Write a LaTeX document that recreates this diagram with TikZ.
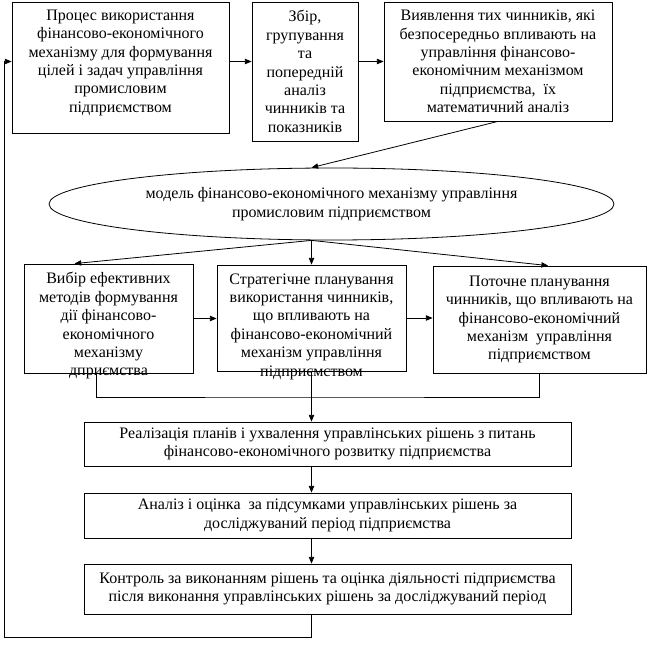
\documentclass[tikz,border=0pt]{standalone}
\usepackage{fontspec}
\setmainfont{Liberation Serif}
\usetikzlibrary{arrows.meta,shapes.geometric,calc}

\begin{document}
\begin{tikzpicture}[x=0.75pt,y=-0.75pt]
\tikzstyle{block}=[draw,line width=0.6pt,align=center,inner sep=0pt,font={\fontsize{12}{13.8}\selectfont}]
\tikzstyle{model}=[block,ellipse]
\tikzstyle{label}=[align=center,inner sep=0pt,font={\fontsize{12}{13.8}\selectfont}]
\tikzstyle{link}=[draw,line width=0.6pt]
\tikzstyle{arrow}=[link,-{Triangle[length=5pt,width=4pt]}]
\def \px {0.75pt}
\useasboundingbox (0,0) rectangle (651,655);
% top row
\node[block,minimum width=217*\px,minimum height=131*\px] (A) at (120.5,67.5)
  {Процес використання\\фінансово-економічного\\механізму для формування\\цілей і задач управління\\промисловим\\підприємством\\[-4pt]};
\node[block,minimum width=106*\px,minimum height=139*\px] (B) at (305,71.5)
  {Збір,\\групування\\та\\попередній\\аналіз\\чинників та\\показників};
\node[block,minimum width=228*\px,minimum height=119*\px] (C) at (498,61.5)
  {Виявлення тих чинників, які\\безпосередньо впливають на\\управління фінансово-\\економічним механізмом\\підприємства,\ \ їх\\математичний аналіз};
% model
\node[model,minimum width=565*\px,minimum height=72*\px] (M) at (331.5,204)
  {модель фінансово-економічного механізму управління\\промисловим підприємством};
% middle row
\node[block,minimum width=169*\px,minimum height=109*\px] (D) at (108.5,318.5) {};
\node[label,anchor=north] (Dtext) at ([yshift=-6.5pt]D.north)
  {Вибір ефективних\\методів формування\\дії фінансово-\\економічного\\механізму\\дприємства};
\node[block,minimum width=189*\px,minimum height=106*\px] (E) at (311.5,318) {};
\node[label,anchor=north] (Etext) at ([yshift=-6.5pt]E.north)
  {Стратегічне планування\\використання чинників,\\що впливають на\\фінансово-економічний\\механізм управління\\підприємством};
\node[block,minimum width=213*\px,minimum height=107*\px] (F) at (539.5,319.5)
  {Поточне планування\\чинників, що впливають на\\фінансово-економічний\\механізм\ \ управління\\підприємством};
% bottom column
\node[block,minimum width=487*\px,minimum height=44*\px] (G) at (327.5,444)
  {Реалізація планів і ухвалення управлінських рішень з питань\\фінансово-економічного розвитку підприємства};
\node[block,minimum width=487*\px,minimum height=45*\px] (H) at (327.5,515.5)
  {Аналіз і оцінка\ \ за підсумками управлінських рішень за\\досліджуваний період підприємства};
\node[block,minimum width=487*\px,minimum height=50*\px] (I) at (327.5,589)
  {Контроль за виконанням рішень та оцінка діяльності підприємства\\після виконання управлінських рішень за досліджуваний період};
\coordinate (join) at (311.5,397);
\coordinate (back) at (4,637);
% connectors
\path[arrow] (A.east |- C.west) -- (B.west |- C.west);
\path[arrow] (B.east |- C.west) -- (C.west);
\path[arrow] (C.south) -- (M.north -| E.north);
\path[arrow] (M.south -| E.north) -- ($(D.north west)!0.3!(D.north east)$);
\path[arrow] (M.south -| E.north) -- (E.north);
\path[arrow] (M.south -| E.north) -- ($(F.north west)!0.54!(F.north east)$);
\path[arrow] (D.east) -- (D.east -| E.west);
\path[arrow] (E.east) -- (E.east -| F.west);
\path[link] ($(D.south west)!0.43!(D.south east)$) |- (join) -| (F.south);
\path[arrow] (E.south) -- (E.south |- G.north);
\path[arrow] (G.south -| E.south) -- (H.north -| E.south);
\path[arrow] (H.south -| E.south) -- (I.north -| E.south);
\path[arrow] (I.south -| E.south) |- (back) |- (A.west |- C.west);
\end{tikzpicture}
\end{document}
